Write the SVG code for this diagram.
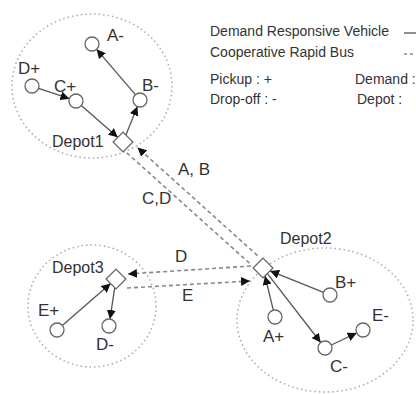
<svg xmlns="http://www.w3.org/2000/svg" width="416" height="394" viewBox="0 0 416 394">
<style>
text{font-family:"Liberation Sans",Arial,Helvetica,sans-serif;fill:#333}
.lg{font-size:14px}
.lb{font-size:17px}
.dl{font-size:16px}
.zone{fill:none;stroke:#aaa;stroke-width:1.5;stroke-dasharray:1.5 3}
.stop{fill:#fff;stroke:#666;stroke-width:1.3}
.depot{fill:#fff;stroke:#666;stroke-width:1.3}
.drv{fill:none;stroke:#555;stroke-width:1.3;marker-end:url(#ah)}
.crb{fill:none;stroke:#888;stroke-width:1.6;stroke-dasharray:4 3}
.crba{marker-end:url(#ah)}
</style>
<defs>
<marker id="ah" viewBox="0 0 10 10" refX="10" refY="5" markerWidth="9" markerHeight="9" markerUnits="userSpaceOnUse" orient="auto">
<path d="M0,0 L10,5 L0,10 z" fill="#111"/>
</marker>
</defs>
<rect width="416" height="394" fill="#fff"/>

<g id="legend">
<text class="lg" x="210" y="36">Demand Responsive Vehicle</text>
<line x1="404" y1="33" x2="420" y2="33" stroke="#555" stroke-width="1.3"/>
<text class="lg" x="210" y="57">Cooperative Rapid Bus</text>
<line x1="404" y1="54" x2="420" y2="54" stroke="#888" stroke-width="1.6" stroke-dasharray="3 3"/>
<text class="lg" x="210" y="84">Pickup : +</text>
<text class="lg" x="210" y="104">Drop-off : -</text>
<text class="lg" x="355" y="84" font-size="13.6">Demand :</text>
<text class="lg" x="357" y="104">Depot :</text>
</g>

<g id="zones">
<ellipse class="zone" cx="92" cy="86" rx="80" ry="72"/>
<ellipse class="zone" cx="92" cy="306" rx="64" ry="61"/>
<ellipse class="zone" cx="325" cy="320" rx="88" ry="72"/>
</g>

<g id="connectors">
<line class="drv" x1="38.6" y1="88.3" x2="69.4" y2="98.7"/>
<line class="drv" x1="81.3" y1="105.6" x2="117.7" y2="137.3"/>
<line class="drv" x1="125.9" y1="134.9" x2="137.4" y2="106.5"/>
<line class="drv" x1="135.4" y1="94.7" x2="96.6" y2="49.3"/>
<line class="drv" x1="323.5" y1="292.4" x2="270.1" y2="270.9"/>
<line class="drv" x1="273.3" y1="310.2" x2="265" y2="276"/>
<line class="drv" x1="267.4" y1="273.6" x2="320.7" y2="342.5"/>
<line class="drv" x1="331.3" y1="345" x2="356.7" y2="333"/>
<line class="drv" x1="62.3" y1="325.4" x2="110.6" y2="283.6"/>
<line class="drv" x1="114.7" y1="287.7" x2="110" y2="319"/>
<line class="crb crba" x1="257.5" y1="255.6" x2="137.5" y2="147.5"/>
<line class="crb" x1="126.8" y1="152.8" x2="250.1" y2="263.8"/>
<line class="crb crba" x1="251" y1="266" x2="128" y2="274"/>
<line class="crb crba" x1="127" y1="288" x2="250" y2="281"/>
<text class="lb" x="178" y="175">A, B</text>
<text class="lb" x="142" y="204">C,D</text>
<text class="lb" x="175" y="262">D</text>
<text class="lb" x="182" y="301">E</text>
</g>

<g id="depot1"><rect class="depot" x="-7" y="-7" width="14" height="14" transform="translate(123 142) rotate(45)"/><text class="dl" x="52" y="147">Depot1</text></g>
<g id="depot2"><rect class="depot" x="-7" y="-7" width="14" height="14" transform="translate(263 268) rotate(45)"/><text class="dl" x="280" y="244">Depot2</text></g>
<g id="depot3"><rect class="depot" x="-7" y="-7" width="14" height="14" transform="translate(116 279) rotate(45)"/><text class="dl" x="52" y="273">Depot3</text></g>

<g id="A-minus"><circle class="stop" cx="92" cy="44" r="7"/><text class="lb" x="107" y="41">A-</text></g>
<g id="D-plus"><circle class="stop" cx="32" cy="86" r="7"/><text class="lb" x="18" y="74">D+</text></g>
<g id="C-plus"><circle class="stop" cx="76" cy="101" r="7"/><text class="lb" x="54" y="92">C+</text></g>
<g id="B-minus"><circle class="stop" cx="140" cy="100" r="7"/><text class="lb" x="142" y="91">B-</text></g>

<g id="B-plus"><circle class="stop" cx="330" cy="295" r="7"/><text class="lb" x="335" y="288">B+</text></g>
<g id="A-plus"><circle class="stop" cx="275" cy="317" r="7"/><text class="lb" x="263" y="342">A+</text></g>
<g id="C-minus"><circle class="stop" cx="325" cy="348" r="7"/><text class="lb" x="330" y="372">C-</text></g>
<g id="E-minus"><circle class="stop" cx="363" cy="330" r="7"/><text class="lb" x="372" y="321">E-</text></g>

<g id="E-plus"><circle class="stop" cx="57" cy="330" r="7"/><text class="lb" x="38" y="316">E+</text></g>
<g id="D-minus"><circle class="stop" cx="109" cy="326" r="7"/><text class="lb" x="96" y="350">D-</text></g>
</svg>
